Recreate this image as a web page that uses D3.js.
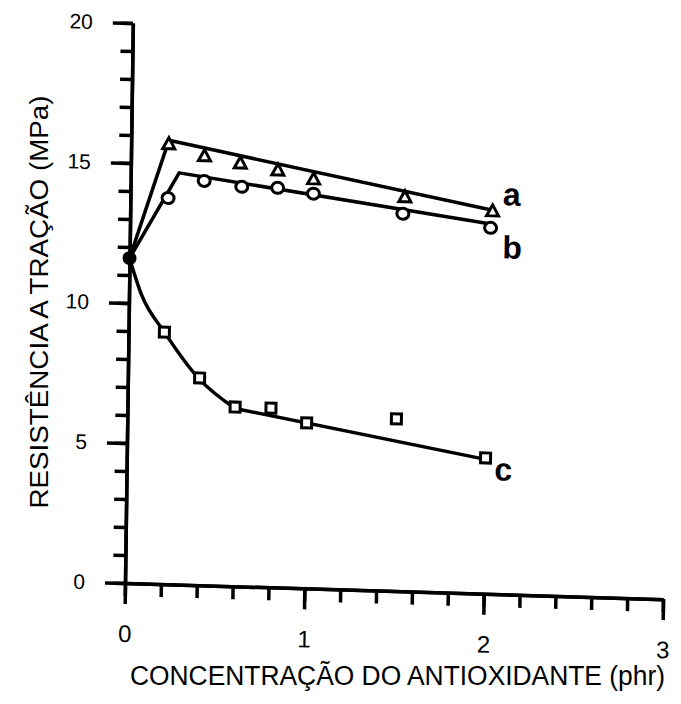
<!DOCTYPE html>
<html>
<head>
<meta charset="utf-8">
<script src="https://cdn.jsdelivr.net/npm/d3@7"></script>
<style>
	body { margin: 0; background: #fff; }
	svg { display: block; font-family: 'Liberation Sans', Arial, sans-serif; }
</style>
</head>
<body>
<div id="chart"></div>
<script>
(function() {
	// Tensile strength (MPa) vs antioxidant concentration (phr)
	const origin = [0, 11.6];

	const xA = [0.21, 0.41, 0.61, 0.82, 1.02, 1.53, 2.02];
	const yA = [15.73, 15.34, 15.12, 14.91, 14.63, 14.09, 13.68];

	const xB = [0.21, 0.41, 0.62, 0.82, 1.02, 1.52, 2.01];
	const yB = [13.79, 14.44, 14.27, 14.27, 14.10, 13.48, 13.07];

	const xC = [0.20, 0.40, 0.60, 0.80, 1.00, 1.50, 2.00];
	const yC = [9.0, 7.4, 6.4, 6.4, 5.91, 6.15, 4.85];

	// fitted lines drawn through each set
	const fitAX = [0, 0.21, 2.02];
	const fitAY = [11.6, 15.85, 13.7];
	const fitBX = [0, 0.27, 2.02];
	const fitBY = [11.6, 14.7, 13.2];
	const fitCCurveX = [0, 0.07, 0.2, 0.4, 0.6];
	const fitCCurveY = [11.6, 10.3, 9.0, 7.35, 6.35];
	const fitCLineX = [0.6, 2.0];
	const fitCLineY = [6.35, 4.8];

	const xTicks = [0, 1, 2, 3];
	const yTicks = [0, 5, 10, 15, 20];
	const xMinor = d3.range(0, 16).map(function(i) { return i / 5; });
	const yMinor = d3.range(0, 21);

	const width = 681, height = 704;
	const plotW = 538, plotH = 560;

	const svg = d3.select('#chart').append('svg')
		.attr('width', width)
		.attr('height', height);

	// plot frame sits slightly skewed on the page
	const g = svg.append('g')
		.attr('transform', 'matrix(1,0.03,-0.014,1,125,583)');

	const x = d3.scaleLinear().domain([0, 3]).range([0, plotW]);
	const y = d3.scaleLinear().domain([0, 20]).range([0, -plotH]);

	function styleAxis(sel, fontSize) {
		sel.selectAll('.domain').style('stroke', '#000').style('stroke-width', '3.5px');
		sel.selectAll('.tick line').style('stroke', '#000').style('stroke-width', '3.5px');
		sel.selectAll('.tick text')
			.attr('fill', '#000')
			.style('font-size', fontSize + 'px')
			.style('font-family', "'Liberation Sans', Arial, sans-serif");
	}

	// x axis: minor ticks every 0.2, longer labelled ticks at integers
	g.append('g')
		.call(d3.axisBottom(x).tickValues(xMinor).tickSize(13).tickSizeOuter(0).tickFormat(''))
		.call(styleAxis, 24);
	g.append('g')
		.call(d3.axisBottom(x).tickValues(xTicks).tickSize(21).tickSizeOuter(0).tickPadding(21).tickFormat(d3.format('d')))
		.call(styleAxis, 24);

	// y axis: minor ticks every 1, labelled every 5
	g.append('g')
		.call(d3.axisLeft(y).tickValues(yMinor).tickSize(12).tickSizeOuter(0).tickFormat(''))
		.call(styleAxis, 21);
	g.append('g')
		.call(d3.axisLeft(y).tickValues(yTicks).tickSize(20).tickSizeOuter(0).tickPadding(20).tickFormat(d3.format('d')))
		.call(styleAxis, 21);

	function zip(xs, ys) {
		return xs.map(function(v, i) { return [v, ys[i]]; });
	}

	const straight = d3.line()
		.x(function(d) { return x(d[0]); })
		.y(function(d) { return y(d[1]); });
	const smooth = d3.line()
		.x(function(d) { return x(d[0]); })
		.y(function(d) { return y(d[1]); })
		.curve(d3.curveMonotoneX);

	const lines = g.append('g')
		.attr('fill', 'none')
		.attr('stroke', '#000')
		.attr('stroke-width', 3.5)
		.attr('stroke-linejoin', 'round');

	lines.append('path').attr('d', straight(zip(fitAX, fitAY)));
	lines.append('path').attr('d', straight(zip(fitBX, fitBY)));
	lines.append('path').attr('d', smooth(zip(fitCCurveX, fitCCurveY)));
	lines.append('path').attr('d', straight(zip(fitCLineX, fitCLineY)));

	const markers = g.append('g')
		.attr('fill', '#fff')
		.attr('stroke', '#000')
		.attr('stroke-width', 3);

	// a: open triangles
	markers.selectAll('path.tri')
		.data(zip(xA, yA))
		.join('path')
		.attr('class', 'tri')
		.attr('transform', function(d) { return 'translate(' + x(d[0]) + ',' + y(d[1]) + ')'; })
		.attr('d', 'M0,-6L6,5L-6,5Z');

	// b: open circles
	markers.selectAll('ellipse.circ')
		.data(zip(xB, yB))
		.join('ellipse')
		.attr('class', 'circ')
		.attr('cx', function(d) { return x(d[0]); })
		.attr('cy', function(d) { return y(d[1]); })
		.attr('rx', 6)
		.attr('ry', 5.5);

	// c: open squares
	markers.selectAll('rect.sq')
		.data(zip(xC, yC))
		.join('rect')
		.attr('class', 'sq')
		.attr('x', function(d) { return x(d[0]) - 5; })
		.attr('y', function(d) { return y(d[1]) - 5; })
		.attr('width', 10)
		.attr('height', 10);

	// common starting point (no antioxidant)
	g.append('circle')
		.attr('cx', x(origin[0]))
		.attr('cy', y(origin[1]))
		.attr('r', 7)
		.attr('fill', '#000');

	// series letters next to the last point
	const tags = [
		{ name: 'a', px: xA[xA.length - 1], py: yA[yA.length - 1], dx: 10, dy: -6 },
		{ name: 'b', px: xB[xB.length - 1], py: yB[yB.length - 1], dx: 12, dy: 30 },
		{ name: 'c', px: xC[xC.length - 1], py: yC[yC.length - 1], dx: 9, dy: 22 }
	];
	g.selectAll('text.tag')
		.data(tags)
		.join('text')
		.attr('class', 'tag')
		.attr('x', function(d) { return x(d.px) + d.dx; })
		.attr('y', function(d) { return y(d.py) + d.dy; })
		.style('font-size', '32px')
		.style('font-weight', 'bold')
		.text(function(d) { return d.name; });

	// axis titles
	svg.append('text')
		.attr('x', 130)
		.attr('y', 685)
		.attr('textLength', 535)
		.attr('lengthAdjust', 'spacingAndGlyphs')
		.style('font-size', '27px')
		.text('CONCENTRAÇÃO DO ANTIOXIDANTE (phr)');

	svg.append('text')
		.attr('transform', 'translate(48,302) rotate(-90)')
		.attr('text-anchor', 'middle')
		.attr('textLength', 413)
		.attr('lengthAdjust', 'spacingAndGlyphs')
		.style('font-size', '26px')
		.text('RESISTÊNCIA A TRAÇÃO (MPa)');
})();
</script>
</body>
</html>
